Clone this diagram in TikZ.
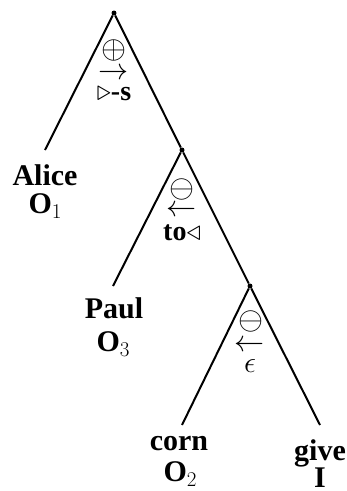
\documentclass[tikz,border=0pt]{standalone}
\usepackage{amssymb}
\usepackage{fontspec}
\newfontfamily\labfont{Liberation Serif}
\newcommand{\symsc}[2]{\scalebox{#1}{#2}}
\newcommand{\subdig}[1]{\raisebox{-5pt}{\fontsize{21}{24}\selectfont\normalfont #1}}
\begin{document}
\begin{tikzpicture}[x=1pt,y=-1pt,
  dot/.style={circle,fill=black,inner sep=0pt,minimum size=5pt},
  branch/.style={line width=2pt},
  leaf/.style={font=\fontsize{30}{34}\selectfont\labfont\bfseries,inner sep=0pt,anchor=base},
  ann/.style={font=\fontsize{20.74}{24}\selectfont,inner sep=0pt},
  anntext/.style={font=\fontsize{28}{30}\selectfont\labfont\bfseries,inner sep=0pt,anchor=base}]
\useasboundingbox (0,0) rectangle (347,491);
% internal nodes
\node[dot] (root) at (114,13) {};
\node[dot] (n2) at (182,150) {};
\node[dot] (n3) at (250,286) {};
% leaf line ends
\coordinate (ea) at (45,150);
\coordinate (ep) at (113,286);
\coordinate (ec) at (182,425);
\coordinate (eg) at (320,425);
% branches
\draw[branch] (root) -- (ea);
\draw[branch] (root) -- (n2);
\draw[branch] (n2) -- (ep);
\draw[branch] (n2) -- (n3);
\draw[branch] (n3) -- (ec);
\draw[branch] (n3) -- (eg);
% leaf labels
\node[leaf] (alice) at (45,185) {Alice};
\node[leaf] (o1) at (45,213) {O\subdig{1}};
\node[leaf] (paul) at (114,318) {Paul};
\node[leaf] (o3) at (113,351) {O\subdig{3}};
\node[leaf] (corn) at (179,450) {corn};
\node[leaf] (o2) at (180,481) {O\subdig{2}};
\node[leaf] (give) at (320,460) {give};
\node[leaf] (i) at (320,487) {I};
% annotations
\node[ann] (op1) at (114,50) {\symsc{1.55}{$\oplus$}};
\node[ann] (ar1) at (114,74) {\symsc{1.45}{$\rightarrow$}};
\node[anntext] (m1) at (114,100) {{\fontsize{20.74}{24}\selectfont\symsc{1.4}{$\triangleright$}}-s};
\node[ann] (op2) at (182,189) {\symsc{1.55}{$\ominus$}};
\node[ann] (ar2) at (182,211) {\symsc{1.45}{$\leftarrow$}};
\node[anntext] (m2) at (182,240) {to{\fontsize{20.74}{24}\selectfont\symsc{1.4}{$\triangleleft$}}};
\node[ann] (op3) at (251,321) {\symsc{1.55}{$\ominus$}};
\node[ann] (ar3) at (250,346) {\symsc{1.45}{$\leftarrow$}};
\node[ann,anchor=base] (m3) at (250,372) {\symsc{1.45}{$\epsilon$}};
\end{tikzpicture}
\end{document}
